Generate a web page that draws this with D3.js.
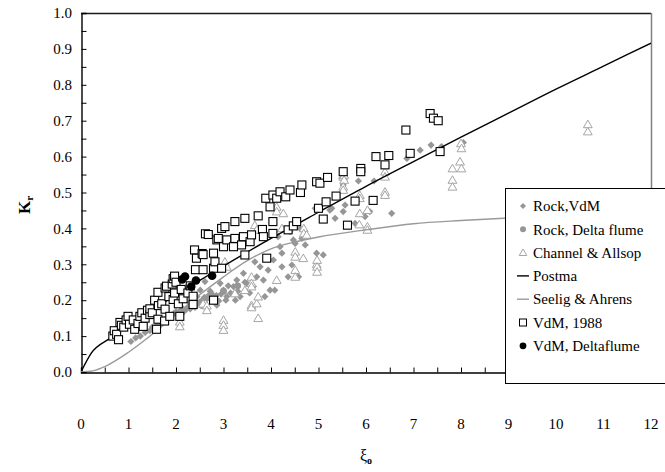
<!DOCTYPE html>
<html>
<head>
<meta charset="utf-8">
<script src="https://cdn.jsdelivr.net/npm/d3@7"></script>
<style>
  html, body { margin: 0; padding: 0; background: #fff; }
  svg { display: block; }
  svg text { font-family: 'Liberation Serif', 'Times New Roman', 'DejaVu Serif', serif; }
</style>
</head>
<body>
<svg id="chart" width="665" height="472"></svg>
<script>
// Reflection coefficient Kr against surf similarity parameter ξo

const xTicks = [0, 1, 2, 3, 4, 5, 6, 7, 8, 9, 10, 11, 12];
const yTicks = [0, 0.1, 0.2, 0.3, 0.4, 0.5, 0.6, 0.7, 0.8, 0.9, 1.0];

// Postma curve
const postmaXi = [0, 0.22, 0.6, 1, 1.5, 2, 2.5, 3, 4, 5, 6, 7, 8, 9, 10, 11, 12];
const postmaKr = [0, 0.053, 0.093, 0.13, 0.173, 0.215, 0.255, 0.295, 0.372, 0.445, 0.517, 0.586, 0.654, 0.721, 0.788, 0.852, 0.916];

// Seelig & Ahrens curve
const seeligXi = [0, 0.25, 0.5, 1, 1.5, 2, 2.5, 3, 3.5, 4, 4.5, 5, 6, 7, 8, 9, 10, 11, 12];
const seeligKr = [0, 0.003, 0.015, 0.055, 0.105, 0.16, 0.215, 0.265, 0.31, 0.343, 0.362, 0.376, 0.396, 0.413, 0.422, 0.429, 0.434, 0.438, 0.441];

// Rock, VdM
const rockVdM = [
  [1.05,0.085],[1.15,0.095],[1.25,0.1],[1.35,0.11],[1.45,0.115],[1.5,0.125],[1.55,0.12],[1.6,0.13],
  [1.65,0.135],[1.7,0.14],[1.75,0.145],[1.8,0.15],[1.85,0.155],[1.9,0.158],[1.95,0.163],[2.0,0.168],
  [2.05,0.163],[2.1,0.172],[2.15,0.176],[2.2,0.172],[2.25,0.18],[2.3,0.176],[2.35,0.185],[2.4,0.18],
  [2.45,0.19],[2.44,0.21],[2.5,0.195],[2.51,0.228],[2.55,0.2],[2.6,0.208],[2.61,0.252],[2.65,0.204],
  [2.7,0.215],[2.72,0.225],[2.75,0.2],[2.79,0.205],[2.86,0.186],[2.85,0.213],[2.9,0.198],[2.93,0.247],
  [2.95,0.217],[3.0,0.228],[3.05,0.2],[3.07,0.21],[3.1,0.24],[3.15,0.22],[3.21,0.238],[3.25,0.2],
  [3.28,0.256],[3.3,0.225],[3.35,0.21],[3.42,0.275],[3.45,0.25],[3.49,0.247],[3.55,0.22],[3.63,0.238],
  [3.66,0.307],[3.7,0.265],[3.77,0.293],[3.84,0.256],[3.87,0.21],[3.94,0.284],[3.98,0.228],[4.05,0.312],
  [4.08,0.228],[4.15,0.377],[4.19,0.349],[4.23,0.293],[4.23,0.331],[4.36,0.265],[4.4,0.391],[4.44,0.298],
  [4.47,0.368],[4.51,0.358],[4.58,0.265],[4.61,0.4],[4.65,0.372],[4.72,0.354],[4.93,0.456],[4.96,0.331],
  [5.1,0.326],[5.24,0.451],[5.28,0.456],[5.35,0.428],[5.49,0.54],[5.52,0.521],[5.52,0.447],[5.56,0.465],
  [5.77,0.414],[5.84,0.532],[5.98,0.433],[6.08,0.447],[6.17,0.532],[6.54,0.442],[6.86,0.595],[7.14,0.618],
  [7.37,0.632],[7.59,0.628],[8.05,0.639]
];

// Rock, Delta flume
const rockDelta = [[2.12,0.165],[2.3,0.19],[2.55,0.185],[2.75,0.215],[3.0,0.225],[3.3,0.24]];

// Channel & Allsop
const channelAllsop = [
  [2.08,0.14],[2.08,0.127],[2.57,0.19],[2.65,0.185],[2.65,0.172],[3.0,0.145],[3.0,0.131],[3.0,0.117],
  [3.03,0.307],[3.07,0.293],[3.24,0.219],[3.45,0.228],[3.59,0.265],[3.59,0.247],[3.59,0.238],[3.59,0.186],
  [3.59,0.18],[3.66,0.409],[3.7,0.396],[3.7,0.191],[3.73,0.21],[3.73,0.15],[4.12,0.46],[4.12,0.447],
  [4.12,0.256],[4.23,0.4],[4.26,0.442],[4.51,0.335],[4.51,0.321],[4.51,0.284],[4.51,0.265],[4.68,0.317],
  [4.69,0.4],[4.69,0.386],[4.75,0.382],[4.96,0.3],[4.97,0.312],[4.97,0.293],[4.97,0.279],[5.52,0.544],
  [5.54,0.549],[5.54,0.535],[5.52,0.516],[5.52,0.507],[5.87,0.493],[5.87,0.484],[5.87,0.442],[5.86,0.411],
  [6.03,0.451],[6.03,0.405],[6.03,0.396],[6.4,0.558],[6.4,0.544],[6.4,0.502],[6.4,0.493],[7.82,0.567],
  [7.82,0.535],[7.82,0.516],[8.0,0.637],[8.01,0.623],[7.98,0.586],[8.01,0.567],[10.67,0.69],[10.67,0.67]
];

// VdM, 1988
const vdm1988 = [
  [0.67,0.1],[0.7,0.115],[0.75,0.105],[0.79,0.09],[0.82,0.138],[0.85,0.13],[0.9,0.125],[0.95,0.145],
  [0.99,0.155],[1.02,0.133],[1.1,0.145],[1.13,0.119],[1.2,0.135],[1.24,0.155],[1.28,0.165],[1.31,0.127],
  [1.35,0.15],[1.4,0.172],[1.45,0.16],[1.45,0.176],[1.5,0.165],[1.55,0.2],[1.59,0.119],[1.62,0.147],
  [1.62,0.222],[1.63,0.185],[1.7,0.19],[1.76,0.142],[1.77,0.175],[1.77,0.234],[1.8,0.239],[1.85,0.21],
  [1.87,0.155],[1.92,0.245],[1.94,0.202],[1.94,0.26],[1.97,0.267],[1.97,0.22],[2.0,0.25],[2.05,0.19],
  [2.08,0.155],[2.11,0.23],[2.15,0.204],[2.25,0.22],[2.3,0.24],[2.36,0.188],[2.36,0.211],[2.39,0.34],
  [2.41,0.285],[2.43,0.317],[2.55,0.33],[2.57,0.285],[2.57,0.327],[2.62,0.385],[2.68,0.383],[2.79,0.2],
  [2.79,0.289],[2.79,0.331],[2.82,0.307],[2.86,0.368],[2.89,0.372],[2.96,0.289],[2.96,0.4],[3.0,0.349],
  [3.03,0.405],[3.07,0.368],[3.21,0.349],[3.24,0.372],[3.24,0.419],[3.38,0.354],[3.42,0.377],[3.45,0.326],
  [3.45,0.428],[3.56,0.363],[3.59,0.382],[3.73,0.435],[3.82,0.397],[3.84,0.377],[3.89,0.484],[3.91,0.317],
  [3.98,0.46],[4.04,0.386],[4.04,0.419],[4.04,0.493],[4.12,0.484],[4.19,0.502],[4.31,0.488],[4.36,0.396],
  [4.4,0.507],[4.47,0.407],[4.54,0.419],[4.62,0.5],[4.65,0.521],[4.96,0.53],[5.0,0.456],[5.03,0.526],
  [5.1,0.426],[5.16,0.474],[5.19,0.542],[5.37,0.49],[5.52,0.558],[5.61,0.409],[5.77,0.476],[5.89,0.567],
  [5.89,0.558],[6.15,0.478],[6.21,0.6],[6.4,0.577],[6.48,0.603],[6.84,0.674],[6.93,0.609],[7.35,0.72],
  [7.42,0.707],[7.52,0.7],[7.56,0.614]
];

// VdM, Deltaflume
const vdmDelta = [[2.13,0.258],[2.19,0.266],[2.32,0.238],[2.42,0.255],[2.76,0.268]];

const legendLabels = ["Rock,VdM", "Rock, Delta flume", "Channel & Allsop", "Postma", "Seelig & Ahrens", "VdM, 1988", "VdM, Deltaflume"];

const FONT = "'Liberation Serif', 'Times New Roman', 'DejaVu Serif', serif";
const svg = d3.select("#chart").attr("font-family", FONT);
const plot = { left: 81, right: 651, top: 13, bottom: 372 };

const x = d3.scaleLinear().domain([0, 12]).range([plot.left, plot.right]);
const y = d3.scaleLinear().domain([0, 1]).range([plot.bottom, plot.top]);

const grey = "#969696";
const triGrey = "#a6a6a6";

// plot frame: top dark, right grey
svg.append("line").attr("x1", plot.left).attr("x2", plot.right).attr("y1", plot.top + 0.5).attr("y2", plot.top + 0.5)
  .attr("stroke", "#1a1a1a").attr("stroke-width", 1.3);
svg.append("line").attr("x1", plot.right + 0.5).attr("x2", plot.right + 0.5).attr("y1", plot.top).attr("y2", plot.bottom)
  .attr("stroke", "#808080").attr("stroke-width", 1.5);

// axes with inward ticks
const yAxis = d3.axisLeft(y).tickValues(d3.range(0, 1.0001, 0.05)).tickSize(-5).tickFormat("");
const xAxis = d3.axisBottom(x).tickValues(d3.range(0, 12.0001, 0.5)).tickSize(-5).tickFormat("");

const gy = svg.append("g").attr("transform", `translate(${plot.left + 0.5},0)`).call(yAxis);
const gx = svg.append("g").attr("transform", `translate(0,${plot.bottom + 0.5})`).call(xAxis);
[gx, gy].forEach(g => {
  g.select(".domain").attr("stroke", "#000").attr("stroke-width", 1.4);
  g.selectAll(".tick line").attr("stroke", "#000").attr("stroke-width", 1);
});

// tick labels
svg.append("g").selectAll("text").data(yTicks).join("text")
  .attr("font-family", FONT)
  .attr("x", 72).attr("y", d => y(d)).attr("dy", "0.35em")
  .attr("text-anchor", "end").attr("font-size", 15).attr("fill", "#000")
  .text(d => d.toFixed(1));
svg.append("g").selectAll("text").data(xTicks).join("text")
  .attr("font-family", FONT)
  .attr("x", d => x(d)).attr("y", 429)
  .attr("text-anchor", "middle").attr("font-size", 15).attr("fill", "#000")
  .text(d => d);

// axis titles
const yl = svg.append("text").attr("transform", "translate(30,205) rotate(-90)").attr("font-family", FONT)
  .attr("text-anchor", "middle").attr("font-size", 17).attr("font-weight", "bold");
yl.append("tspan").text("K");
yl.append("tspan").attr("font-size", 11).attr("dy", 3).text("r");

const xl = svg.append("text").attr("x", 366).attr("y", 461).attr("text-anchor", "middle")
  .attr("font-family", FONT).attr("font-size", 16);
xl.append("tspan").text("ξ");
xl.append("tspan").attr("font-size", 10).attr("font-weight", "bold").attr("dy", 3).text("o");

// clip to plot area
svg.append("clipPath").attr("id", "clip").append("rect")
  .attr("x", plot.left).attr("y", plot.top).attr("width", plot.right - plot.left).attr("height", plot.bottom - plot.top);
const g = svg.append("g").attr("clip-path", "url(#clip)");

// Rock, VdM
g.append("g").selectAll("path").data(rockVdM).join("path")
  .attr("d", d3.symbol().type(d3.symbolSquare).size(26))
  .attr("transform", d => `translate(${x(d[0])},${y(d[1])}) rotate(45)`)
  .attr("fill", grey);

// Rock, Delta flume
g.append("g").selectAll("circle").data(rockDelta).join("circle")
  .attr("cx", d => x(d[0])).attr("cy", d => y(d[1])).attr("r", 3.4).attr("fill", grey);

// Channel & Allsop
const triPath = "M0,-4.2L4.4,3.4L-4.4,3.4Z";
g.append("g").selectAll("path").data(channelAllsop).join("path")
  .attr("transform", d => `translate(${x(d[0])},${y(d[1])})`)
  .attr("d", triPath).attr("fill", "#fff").attr("stroke", triGrey).attr("stroke-width", 1);

// curves
const line = d3.line().x(d => x(d[0])).y(d => y(d[1])).curve(d3.curveMonotoneX);
g.append("path").datum(postmaXi.map((v, i) => [v, postmaKr[i]])).attr("d", line)
  .attr("fill", "none").attr("stroke", "#000").attr("stroke-width", 1.4);
g.append("path").datum(seeligXi.map((v, i) => [v, seeligKr[i]])).attr("d", line)
  .attr("fill", "none").attr("stroke", "#9a9a9a").attr("stroke-width", 1.4);

// VdM, 1988
g.append("g").selectAll("rect").data(vdm1988).join("rect")
  .attr("x", d => x(d[0]) - 4).attr("y", d => y(d[1]) - 4).attr("width", 8).attr("height", 8)
  .attr("fill", "#fff").attr("stroke", "#000").attr("stroke-width", 1.1);

// VdM, Deltaflume
g.append("g").selectAll("circle").data(vdmDelta).join("circle")
  .attr("cx", d => x(d[0])).attr("cy", d => y(d[1])).attr("r", 4.3).attr("fill", "#000");

// legend
const lg = svg.append("g");
lg.append("rect").attr("x", 505.5).attr("y", 188.5).attr("width", 170).attr("height", 195)
  .attr("fill", "#fff").attr("stroke", "#000").attr("stroke-width", 1);
const rowY = i => 206 + i * 23.3;
const mx = 523;
lg.selectAll("text").data(legendLabels).join("text")
  .attr("font-family", FONT)
  .attr("x", 533).attr("y", (d, i) => rowY(i)).attr("dy", "0.35em")
  .attr("font-size", 15).attr("fill", "#000").text(d => d);
lg.append("path").attr("d", d3.symbol().type(d3.symbolSquare).size(18))
  .attr("transform", `translate(${mx},${rowY(0)}) rotate(45)`).attr("fill", grey);
lg.append("circle").attr("cx", mx).attr("cy", rowY(1)).attr("r", 3).attr("fill", grey);
lg.append("path").attr("d", "M0,-3.6L3.8,2.9L-3.8,2.9Z").attr("transform", `translate(${mx},${rowY(2)})`)
  .attr("fill", "#fff").attr("stroke", triGrey);
lg.append("line").attr("x1", mx - 6).attr("x2", mx + 6).attr("y1", rowY(3)).attr("y2", rowY(3))
  .attr("stroke", "#000").attr("stroke-width", 1.4);
lg.append("line").attr("x1", mx - 6).attr("x2", mx + 6).attr("y1", rowY(4)).attr("y2", rowY(4))
  .attr("stroke", "#9a9a9a").attr("stroke-width", 1.4);
lg.append("rect").attr("x", mx - 3.5).attr("y", rowY(5) - 3.5).attr("width", 7).attr("height", 7)
  .attr("fill", "#fff").attr("stroke", "#000");
lg.append("circle").attr("cx", mx).attr("cy", rowY(6)).attr("r", 3.4).attr("fill", "#000");
</script>
</body>
</html>
